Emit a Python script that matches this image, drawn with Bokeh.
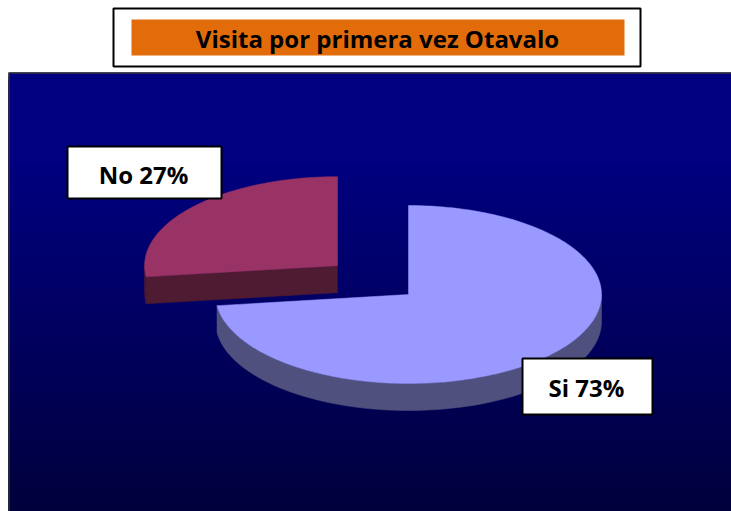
import numpy as np
from bokeh.plotting import figure
from bokeh.models import Range1d
from bokeh.core.properties import value
from bokeh.embed import file_html
from bokeh.resources import INLINE

# ---- data ----
title_text = "Visita por primera vez Otavalo"
categories = ["Si", "No"]
shares = [73, 27]
top_colors = ["#9999FF", "#993366"]
side_colors = ["#50507F", "#4E1B33"]
explode = [0.0, 0.49]
label_texts = [f"{c} {v}%" for c, v in zip(categories, shares)]

# ---- layout (page pixel coordinates) ----
W, H = 731, 511
X0, Y0 = 0, 0
p = figure(width=W, height=H, output_backend="svg", toolbar_location=None,
           x_range=Range1d(X0, X0 + W), y_range=Range1d(Y0 + H, Y0),
           min_border=0, outline_line_color=None,
           background_fill_color="white", border_fill_color="white")
p.axis.visible = False
p.grid.visible = False

FONT = value("Open Sans")

# title box
p.quad(left=[113], right=[640], top=[8], bottom=[66], fill_color="white",
       line_color="black", line_width=2)
p.quad(left=[131], right=[624], top=[19], bottom=[55], fill_color="#E36C0A",
       line_color=None)
p.text(x=[377], y=[38], text=[title_text], text_font=FONT, text_font_style="bold",
       text_font_size="24px", text_align="center", text_baseline="middle",
       text_color="black")

# plot area gradient background
PA_L, PA_R, PA_T, PA_B = 8, 731, 72, 511
n = 120
edges = np.linspace(PA_T, PA_B, n + 1)
cols = []
for i in range(n):
    ym = 0.5 * (edges[i] + edges[i + 1])
    t = (ym - PA_T) / (PA_B - PA_T)
    b = 128 if t < 0.2 else 128 - (128 - 60) * (t - 0.2) / 0.8
    cols.append("#%02x%02x%02x" % (0, 0, int(round(b))))
p.quad(left=PA_L, right=PA_R, top=edges[:-1], bottom=PA_B,
       fill_color=cols, line_color=None)
p.line(x=[PA_L + 0.5, PA_L + 0.5, PA_R], y=[PA_B, PA_T + 0.5, PA_T + 0.5],
       line_color="#333333", line_width=1.5)

# ---- 3D pie ----
CX, CY = 408, 294
RX, RY = 193, 89
DEPTH = 27


def pt(cx, cy, th, d=0.0):
    r = np.radians(th)
    return cx + RX * np.cos(r), cy - RY * np.sin(r) + d


slices = []
cum = 0.0
for cat, v, ex in zip(categories, shares, explode):
    a0 = 90 - cum * 3.6
    cum += v
    a1 = 90 - cum * 3.6
    mid = np.radians(0.5 * (a0 + a1))
    cx = CX + ex * RX * np.cos(mid)
    cy = CY - ex * RY * np.sin(mid)
    slices.append((a1, a0, cx, cy))

draw_order = sorted(range(len(categories)),
                    key=lambda i: slices[i][3])  # back (smaller y) first
for i in draw_order:
    a1, a0, cx, cy = slices[i]
    # outer visible wall (front half: sin < 0)
    for k in (-1, 0):
        lo, hi = max(a1, -180 + 360 * k), min(a0, 360 * k)
        if hi > lo:
            th = np.linspace(lo, hi, 80)
            xs_t, ys_t = pt(cx, cy, th)
            xs_b, ys_b = pt(cx, cy, th[::-1], DEPTH)
            p.patch(np.concatenate([xs_t, xs_b]), np.concatenate([ys_t, ys_b]),
                    fill_color=side_colors[i], line_color=side_colors[i], line_width=0.5)
    # cut faces
    for ang, nrm in ((a0, a0 + 90), (a1, a1 - 90)):
        if np.sin(np.radians(nrm)) < -1e-6:
            ex_, ey_ = pt(cx, cy, ang)
            p.patch([cx, ex_, ex_, cx], [cy, ey_, ey_ + DEPTH, cy + DEPTH],
                    fill_color=side_colors[i], line_color=side_colors[i], line_width=0.5)
    # top face
    th = np.linspace(a1, a0, 200)
    xs, ys = pt(cx, cy, th)
    p.patch(np.concatenate([[cx], xs]), np.concatenate([[cy], ys]),
            fill_color=top_colors[i], line_color=top_colors[i], line_width=0.5)

# ---- data labels ----
lab_left = [522, 67]
lab_right = [652, 221]
lab_top = [358, 146]
lab_bottom = [414, 198]
lab_x = [586, 143]
lab_y = [387, 174]
p.quad(left=lab_left, right=lab_right, top=lab_top, bottom=lab_bottom,
       fill_color="white", line_color="black", line_width=2)
p.text(x=lab_x, y=lab_y, text=label_texts, text_font=FONT, text_font_style="bold",
       text_font_size="24px", text_align="center", text_baseline="middle",
       text_color="black")

open("out.html", "w").write(file_html(p, INLINE))
